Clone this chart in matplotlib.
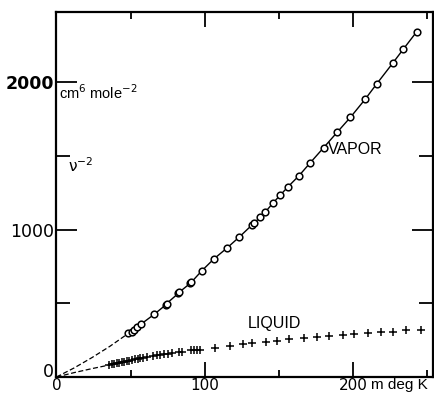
import matplotlib
matplotlib.use("Agg")
import matplotlib.pyplot as plt
import matplotlib.transforms as mtransforms

# ---- data ----
vapor_T = [48.5, 50.8, 52.6, 54.6, 57.1, 65.9, 73.6, 74.3, 82.3, 82.8, 90.2, 90.9,
           98.1, 106.1, 114.7, 123.3, 131.9, 133.4, 137.5, 140.9, 145.9, 151.0,
           156.2, 163.6, 171.3, 180.3, 189.3, 198.3, 208.2, 215.9, 226.9, 233.9, 243.0]
vapor_v = [296, 303, 319, 336, 359, 425, 488, 498, 568, 575, 635, 642,
           721, 800, 872, 949, 1031, 1042, 1088, 1119, 1178, 1234,
           1290, 1365, 1454, 1556, 1659, 1761, 1883, 1986, 2129, 2222, 2341]

liquid_T = [35.5, 37.2, 38.9, 40.5, 42.2, 43.9, 45.6, 47.3, 49.0, 51.0, 53.0, 54.7,
            56.4, 58.4, 61.1, 65.2, 67.9, 69.9, 72.6, 75.3, 78.0, 82.8, 84.8, 90.9,
            92.9, 94.9, 97.0,
            107, 117, 126, 132, 141, 149, 157, 167, 176, 184, 193, 201, 210, 219,
            227, 236, 246]
liquid_v = [81, 85, 90, 94, 98, 101, 104, 108, 111, 115, 119, 123,
            126, 130, 134, 142, 146, 150, 154, 159, 163, 170, 172, 180,
            182, 184, 186,
            200, 210, 222, 228, 238, 247, 256, 266, 272, 278, 286, 294, 298, 303,
            308, 316, 322]

# dashed extrapolations to the origin
vapor_ext_T = [0, 12, 24, 36, 48.5]
vapor_ext_v = [0, 62, 132, 208, 296]
liquid_ext_T = [0, 12, 24, 35.5]
liquid_ext_v = [0, 30, 57, 81]

xticks_major = [0, 100, 200]
xticks_minor = [50, 150, 250]
yticks_major = [0, 1000, 2000]
yticks_minor = [500, 1500]

fig = plt.figure(figsize=(4.35, 3.94), dpi=100)
ax = fig.add_axes([56.5 / 435, 17 / 394, (433 - 56.5) / 435, (377 - 12) / 394])
ax.set_xlim(0, 254)
ax.set_ylim(0, 2475)

ax.plot(vapor_ext_T, vapor_ext_v, color="black", lw=0.9, ls=(0, (4, 2)))
ax.plot(liquid_ext_T, liquid_ext_v, color="black", lw=0.9, ls=(0, (4, 2)))
ax.plot(vapor_T, vapor_v, color="black", lw=1.0, marker="o", ms=4.8,
        mfc="white", mec="black", mew=1.1)
ax.plot(liquid_T, liquid_v, ls="none", color="black", marker="+", ms=5.5, mew=1.1)

for s in ax.spines.values():
    s.set_linewidth(1.6)

ax.set_xticks(xticks_major)
ax.set_xticklabels([str(v) for v in xticks_major])
ax.set_xticks(xticks_minor, minor=True)
ax.set_yticks(yticks_major)
ax.set_yticklabels([str(v) for v in yticks_major])
ax.set_yticks(yticks_minor, minor=True)

ax.tick_params(axis="x", which="both", direction="in", top=True, bottom=True,
               labelsize=11, pad=1, width=1.3)
ax.tick_params(axis="x", which="major", length=10.5)
ax.tick_params(axis="x", which="minor", length=5)
ax.tick_params(axis="y", which="both", direction="in", left=True, right=True,
               labelsize=12.5, pad=2, width=1.3)
ax.tick_params(axis="y", which="major", length=15)
ax.tick_params(axis="y", which="minor", length=10)
for lab in ax.get_yticklabels():
    if lab.get_text() == "2000":
        lab.set_fontweight("bold")
    if lab.get_text() == "0":
        lab.set_verticalalignment("baseline")

trans = mtransforms.blended_transform_factory(ax.transData, ax.transAxes)
ax.text(212, -0.004, "m deg K", transform=trans, ha="left", va="top", fontsize=11,
        family="Liberation Sans")

ax.text(183, 1540, "VAPOR", fontsize=11.5, ha="left", va="center",
        family="Liberation Sans")
ax.text(129, 362, "LIQUID", fontsize=11.5, ha="left", va="center",
        family="Liberation Sans")
ax.text(2, 1930, "cm$^6$ mole$^{-2}$", fontsize=10.5, ha="left", va="center",
        family="Liberation Sans")
ax.text(8, 1430, "ν$^{-2}$", fontsize=11, ha="left", va="center",
        family="DejaVu Sans")

fig.savefig("out.png", dpi=100)
